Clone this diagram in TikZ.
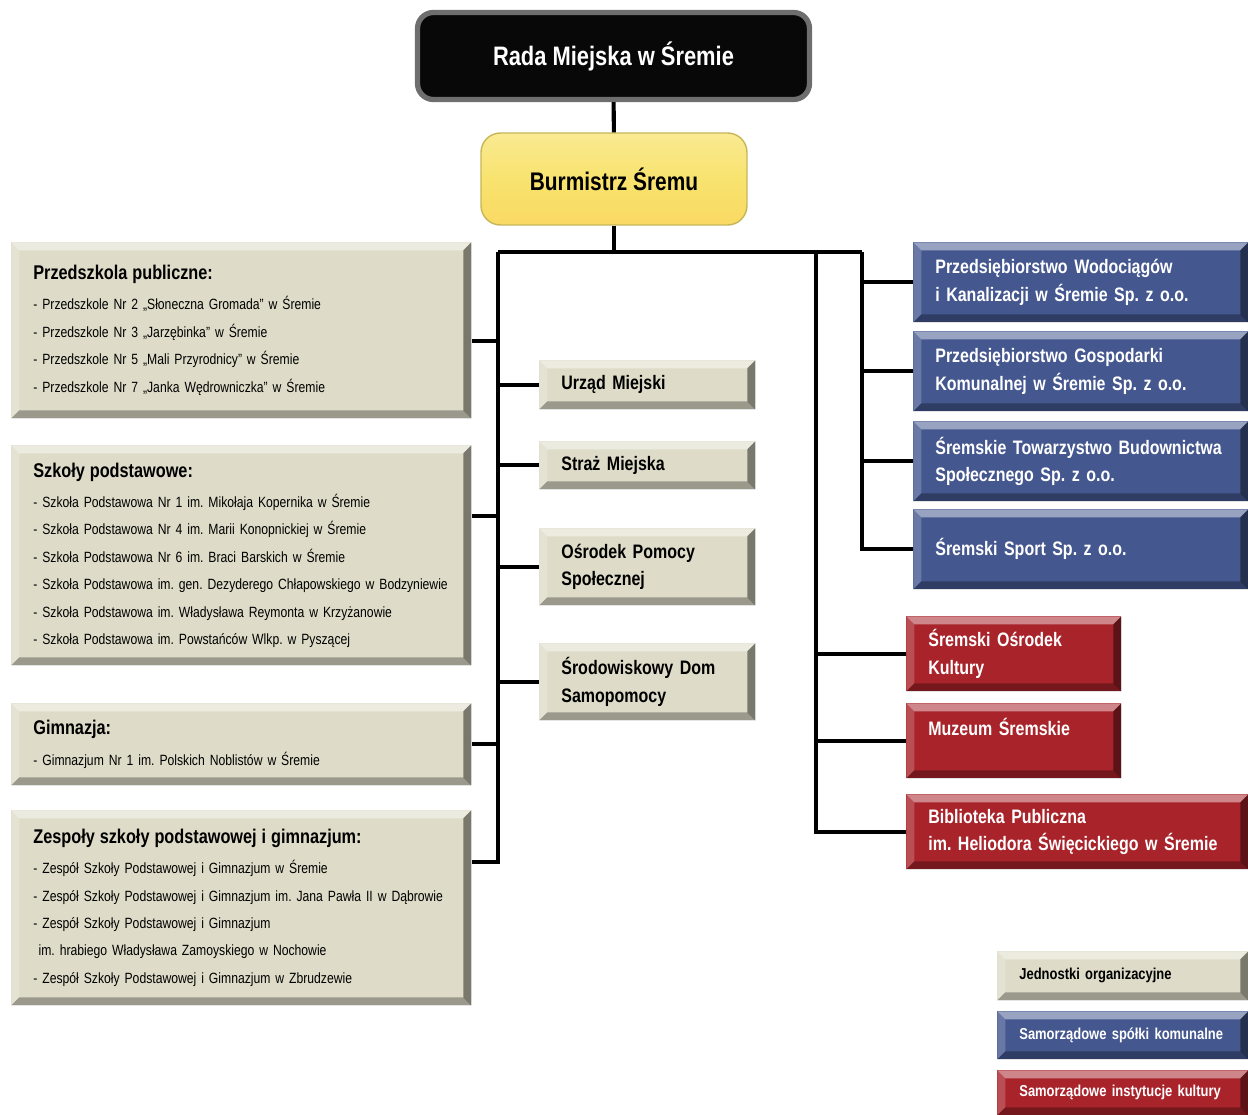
\documentclass[tikz,border=0pt]{standalone}
\usepackage{fontspec}
\setmainfont{Liberation Sans}[FakeStretch=0.82]
\usepackage{tikz}
\usetikzlibrary{positioning}
\usepackage{xcolor}
\definecolor{unitbeige}{HTML}{DEDCC8}
\definecolor{firmblue}{HTML}{44578F}
\definecolor{culturered}{HTML}{A8232A}
\definecolor{mayoryellow}{HTML}{F8E36E}
\definecolor{radagray}{HTML}{6E6E6E}
\newlength\bevw
\setlength\bevw{4.5pt}
\newcommand\hd[1]{{\fontsize{11.3}{18}\selectfont\bfseries #1}}
\frenchspacing

\tikzset{
  conn/.style={line width=2.3pt},
  bevel/.style={path picture={
    \fill[white,opacity=.45] (path picture bounding box.north west) -- (path picture bounding box.north east)
      -- ([shift={(-\bevw,-\bevw)}]path picture bounding box.north east) -- ([shift={(\bevw,-\bevw)}]path picture bounding box.north west) -- cycle;
    \fill[white,opacity=.2] (path picture bounding box.north west) -- ([shift={(\bevw,-\bevw)}]path picture bounding box.north west)
      -- ([shift={(\bevw,\bevw)}]path picture bounding box.south west) -- (path picture bounding box.south west) -- cycle;
    \fill[black,opacity=.3] (path picture bounding box.south west) -- (path picture bounding box.south east)
      -- ([shift={(-\bevw,\bevw)}]path picture bounding box.south east) -- ([shift={(\bevw,\bevw)}]path picture bounding box.south west) -- cycle;
    \fill[black,opacity=.45] (path picture bounding box.north east) -- (path picture bounding box.south east)
      -- ([shift={(-\bevw,\bevw)}]path picture bounding box.south east) -- ([shift={(-\bevw,-\bevw)}]path picture bounding box.north east) -- cycle;
  }},
  box/.style={bevel, anchor=north west, align=left, inner xsep=0.44cm, inner ysep=0pt,
    font=\fontsize{11.1}{15.5}\selectfont\bfseries},
  unit/.style={box, fill=unitbeige, text=black},
  firm/.style={box, fill=firmblue, text=white, text width=5.82cm, minimum height=1.6cm},
  culture/.style={box, fill=culturered, text=white, minimum height=1.5cm},
  school/.style={unit, text width=8.32cm, font=\fontsize{8.45}{15.6}\selectfont},
  office/.style={unit, text width=3.44cm},
  legend/.style={box, text width=4.14cm, font=\fontsize{9}{12}\selectfont\bfseries},
  rada/.style={rounded corners=9pt, fill=black!97, draw=radagray, line width=3pt, text=white,
    minimum width=7.84cm, minimum height=1.74cm, font=\fontsize{15.2}{18}\selectfont\bfseries},
  mayor/.style={rounded corners=11pt, top color=mayoryellow!75!white, bottom color=mayoryellow!90!orange,
    middle color=mayoryellow, draw=mayoryellow!80!black, line width=0.8pt,
    minimum width=5.32cm, minimum height=1.84cm, font=\fontsize{14.5}{17}\selectfont\bfseries}
}

\begin{document}
\begin{tikzpicture}[x=0.02cm,y=-0.02cm]
  \useasboundingbox (0,0) rectangle (1248,1115);
  % Top
  \node[rada] (rada) at (613.5,56) {Rada Miejska w Śremie};
  \node[mayor] (burm) at (614,179) {Burmistrz Śremu};
  % Schools (left column)
  \node[school, minimum height=3.52cm] (przed) at (11,242) {\hd{Przedszkola publiczne:}\\[1.5pt]
    - Przedszkole Nr 2 „Słoneczna Gromada” w Śremie\\
    - Przedszkole Nr 3 „Jarzębinka” w Śremie\\
    - Przedszkole Nr 5 „Mali Przyrodnicy” w Śremie\\
    - Przedszkole Nr 7 „Janka Wędrowniczka” w Śremie};
  \node[school, minimum height=4.4cm] (szk) at (11,445) {\hd{Szkoły podstawowe:}\\[1.5pt]
    - Szkoła Podstawowa Nr 1 im. Mikołaja Kopernika w Śremie\\
    - Szkoła Podstawowa Nr 4 im. Marii Konopnickiej w Śremie\\
    - Szkoła Podstawowa Nr 6 im. Braci Barskich w Śremie\\
    \mbox{- Szkoła Podstawowa im. gen. Dezyderego Chłapowskiego w Bodzyniewie}\\
    - Szkoła Podstawowa im. Władysława Reymonta w Krzyżanowie\\
    - Szkoła Podstawowa im. Powstańców Wlkp. w Pyszącej};
  \node[school, minimum height=1.64cm] (gimn) at (11,703) {\hd{Gimnazja:}\\[1.5pt]
    - Gimnazjum Nr 1 im. Polskich Noblistów w Śremie};
  \node[school, minimum height=3.9cm] (zesp) at (11,810) {\hd{Zespoły szkoły podstawowej i gimnazjum:}\\[1.5pt]
    - Zespół Szkoły Podstawowej i Gimnazjum w Śremie\\
    \mbox{- Zespół Szkoły Podstawowej i Gimnazjum im. Jana Pawła II w Dąbrowie}\\
    - Zespół Szkoły Podstawowej i Gimnazjum\\
    \hspace{3pt}im. hrabiego Władysława Zamoyskiego w Nochowie\\
    - Zespół Szkoły Podstawowej i Gimnazjum w Zbrudzewie};
  % Organisational units (middle column)
  \node[office, minimum height=0.98cm] (urzad) at (539,360) {Urząd Miejski};
  \node[office, minimum height=0.96cm] (straz) at (539,441) {Straż Miejska};
  \node[office, minimum height=1.54cm] (ops) at (539,528) {Ośrodek Pomocy\\Społecznej};
  \node[office, minimum height=1.54cm] (sds) at (539,643) {Środowiskowy Dom\\Samopomocy};
  % Municipal companies
  \node[firm] (pwik) at (913,242) {Przedsiębiorstwo Wodociągów\\i Kanalizacji w Śremie Sp. z o.o.};
  \node[firm] (pgk) at (913,331) {Przedsiębiorstwo Gospodarki\\Komunalnej w Śremie Sp. z o.o.};
  \node[firm] (stbs) at (913,421) {Śremskie Towarzystwo Budownictwa\\Społecznego Sp. z o.o.};
  \node[firm] (sport) at (913,509) {Śremski Sport Sp. z o.o.};
  % Cultural institutions
  \node[culture, text width=3.42cm] (sok) at (906,616) {Śremski Ośrodek\\Kultury};
  \node[culture, text width=3.42cm] (muz) at (906,703) {Muzeum Śremskie\\~};
  \node[culture, text width=5.96cm] (bibl) at (906,794) {Biblioteka Publiczna\\im. Heliodora Święcickiego w Śremie};
  % Legend
  \node[legend, fill=unitbeige, text=black, minimum height=0.98cm] (legU) at (997,951) {Jednostki organizacyjne};
  \node[legend, fill=firmblue, text=white, minimum height=0.96cm] (legF) at (997,1011) {Samorządowe spółki komunalne};
  \node[legend, fill=culturered, text=white, minimum height=0.9cm] (legC) at (997,1070) {Samorządowe instytucje kultury};
  % Connectors
  \coordinate (top) at (614,252);
  \coordinate (jL) at (498,252);
  \coordinate (jM) at (816,252);
  \coordinate (jR) at (862,252);
  \draw[conn] (rada) -- (burm);
  \draw[conn] (burm) -- (top);
  \draw[conn] (jL) -- (jR);
  \draw[conn] (jL) |- (zesp.east |- 0,862);
  \foreach \n/\y in {przed/341, szk/516, gimn/744}
    \draw[conn] (\n.east |- 0,\y) -- (jL |- 0,\y);
  \foreach \n in {urzad, straz, ops, sds}
    \draw[conn] (jL |- \n.west) -- (\n.west);
  \draw[conn] (jR) |- (sport.west);
  \foreach \n in {pwik, pgk, stbs}
    \draw[conn] (jR |- \n.west) -- (\n.west);
  \draw[conn] (jM) |- (bibl.west);
  \foreach \n in {sok, muz}
    \draw[conn] (jM |- \n.west) -- (\n.west);
\end{tikzpicture}
\end{document}
